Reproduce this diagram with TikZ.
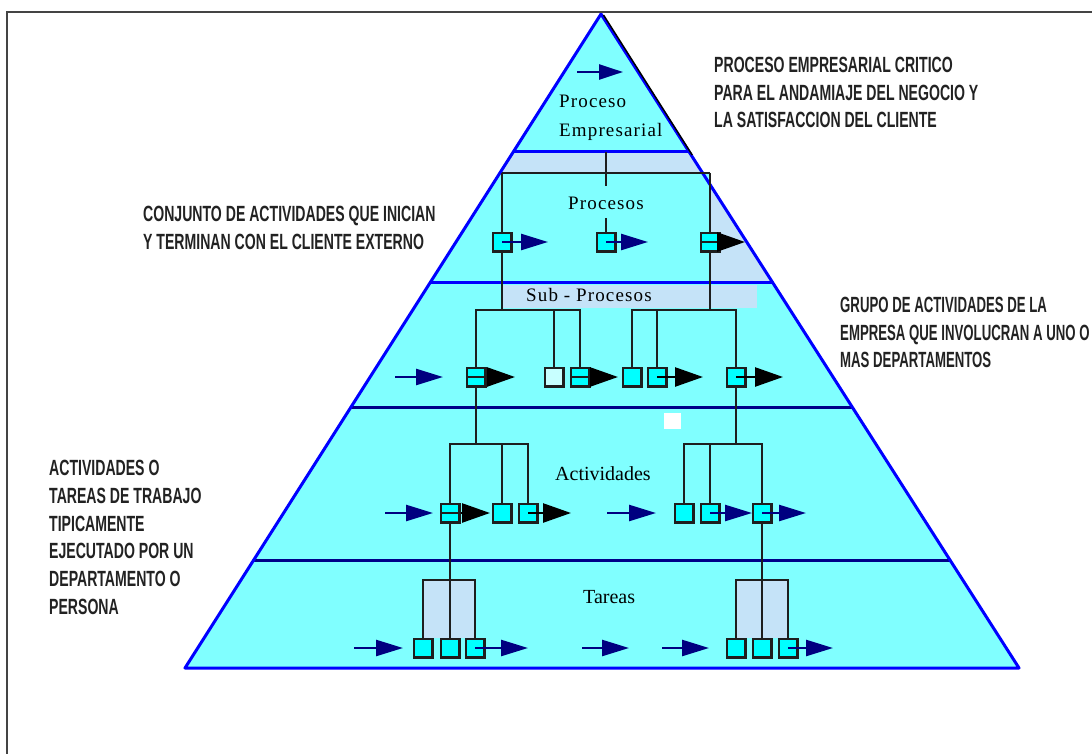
\documentclass[tikz,border=0pt]{standalone}
\usepackage{fontspec}
\usetikzlibrary{arrows.meta,calc}
\newfontfamily\capfont[FakeStretch=0.64]{Liberation Sans}
\newfontfamily\capfontnarrow[FakeStretch=0.6]{Liberation Sans}
\newfontfamily\labfont{Liberation Serif}
\newfontfamily\labfontsp[LetterSpace=6]{Liberation Serif}

\definecolor{bandcyan}{HTML}{80FFFF}
\definecolor{boxcyan}{HTML}{00FFFF}
\definecolor{palecyan}{HTML}{C8FFFF}
\definecolor{lightblue}{HTML}{C5E3F8}
\definecolor{edgeblue}{HTML}{0000FF}
\definecolor{bandnavy}{HTML}{000088}
\definecolor{arrownavy}{HTML}{000080}
\definecolor{wiregray}{HTML}{1E1E1E}
\definecolor{framegray}{HTML}{444444}
\definecolor{notegray}{HTML}{222222}

\pgfdeclarelayer{fills}
\pgfdeclarelayer{wires}
\pgfsetlayers{fills,wires,main}

\tikzset{
  box/.style={draw=wiregray, line width=2.5pt, fill=boxcyan, minimum size=18.5pt, inner sep=0pt},
  splitbox/.style={box, path picture={\draw[wiregray, line width=1.8pt]
      (path picture bounding box.west) -- (path picture bounding box.east);}},
  palebox/.style={box, fill=palecyan},
  wire/.style={draw=wiregray, line width=2.5pt},
  navyarrow/.style={draw=arrownavy, line width=2.5pt, -{Triangle[length=27pt,width=16pt]}},
  blackarrow/.style={draw=black, line width=2.5pt, -{Triangle[length=28pt,width=19pt]}},
  note/.style={font=\capfont\bfseries\fontsize{22}{27.5}\selectfont, text=notegray,
      align=left, anchor=north west, inner sep=0pt},
  lab/.style={font=\labfontsp\fontsize{19}{22}\selectfont, anchor=base west, inner sep=0pt},
  labwide/.style={font=\labfont\fontsize{20}{22}\selectfont, anchor=base west, inner sep=0pt},
  bandline/.style={line width=3pt}
}

\begin{document}
\begin{tikzpicture}[x=1pt, y=-1pt]
\useasboundingbox (0,0) rectangle (1092,754);

% pyramid corners and the points where the level lines meet its sides
\coordinate (apex) at (601,14);
\coordinate (bl) at (185,668);
\coordinate (br) at (1019,668);
\coordinate (l1) at ($(apex)!0.2110!(bl)$);
\coordinate (r1) at ($(apex)!0.2110!(br)$);
\coordinate (l1b) at ($(apex)!0.2431!(bl)$);
\coordinate (l2) at ($(apex)!0.4113!(bl)$);
\coordinate (r2) at ($(apex)!0.4113!(br)$);
\coordinate (l3) at ($(apex)!0.6024!(bl)$);
\coordinate (r3) at ($(apex)!0.6024!(br)$);
\coordinate (l4) at ($(apex)!0.8349!(bl)$);
\coordinate (r4) at ($(apex)!0.8349!(br)$);

% ---------- boxes ----------
% Procesos
\node[box]      (p1) at (502,242) {};
\node[box]      (p2) at (606,242) {};
\node[splitbox] (p3) at (710,242) {};
% Sub-Procesos
\node[splitbox] (s1) at (476,377) {};
\node[palebox]  (s2) at (554,377) {};
\node[splitbox] (s3) at (580,377) {};
\node[box]      (s4) at (632,377) {};
\node[box]      (s5) at (657,377) {};
\node[box]      (s6) at (736,377) {};
% Actividades
\node[splitbox] (a1) at (450,513) {};
\node[box]      (a2) at (502,513) {};
\node[box]      (a3) at (528,513) {};
\node[box]      (b1) at (684,513) {};
\node[box]      (b2) at (710,513) {};
\node[box]      (b3) at (762,513) {};
% Tareas
\node[box] (t1) at (423,648) {};
\node[box] (t2) at (450,648) {};
\node[box] (t3) at (475,648) {};
\node[box] (r1b) at (736,648) {};
\node[box] (r2b) at (762,648) {};
\node[box] (r3b) at (788,648) {};

% ---------- page, level fills and outline ----------
\begin{pgfonlayer}{fills}
  \fill[white] (0,0) rectangle (1092,754);
  \fill[bandcyan] (apex) -- (r1) -- (l1) -- cycle;
  \fill[lightblue] (l1) -- (r1) -- (r2) -- (l2) -- cycle;
  \fill[bandcyan] (l1b) -- (710,173) -- (710,283) -- (l2) -- cycle;
  \fill[bandcyan] (l2) -- (r2) -- (br) -- (bl) -- cycle;
  \fill[lightblue] (503,285) rectangle (757,308);
  \fill[lightblue] (423,580) rectangle (476,638);
  \fill[lightblue] (736,580) rectangle (788,638);
  \fill[white] (664,413) rectangle (681,429);
  \draw[edgeblue, bandline] (l1) -- (r1);
  \draw[edgeblue, bandline] (l2) -- (r2);
  \draw[bandnavy, bandline] (l3) -- (r3);
  \draw[bandnavy, bandline] (l4) -- (r4);
  \draw[edgeblue, bandline, line join=round] (apex) -- (br) -- (bl) -- cycle;
  \draw[black, line width=1.5pt] ($(apex)+(2.5,1)$) -- ($(r1)+(3,3)$);
  % page frame
  \draw[framegray, line width=1.5pt] (7,754) -- (7,12) -- (1092,12);
\end{pgfonlayer}

% ---------- tree lines ----------
\coordinate (ptop) at (606,152);
\coordinate (pstem) at (606,186);
\coordinate (pstub) at (606,218);
\coordinate (pl) at (502,173);
\coordinate (pr) at (710,173);
\coordinate (sl) at (502,310);
\coordinate (sr) at (710,310);
\coordinate (aY) at (0,444);
\coordinate (tY) at (0,580);
\begin{pgfonlayer}{wires}
  \draw[wire] (ptop) -- (pstem);
  \draw[wire] (pl) -- (pr);
  \draw[wire] (pstub) -- (p2);
  \draw[wire] (pl) -- (sl);
  \draw[wire] (pr) -- (sr);
  % Sub-Procesos forks
  \draw[wire] (s1.center) -- (s1.center |- sl) -- (s3.center |- sl) -- (s3.center);
  \draw[wire] (s2.center |- sl) -- (s2.center);
  \draw[wire] (s4.center) -- (s4.center |- sr) -- (s6.center |- sr) -- (s6.center);
  \draw[wire] (s5.center |- sr) -- (s5.center);
  % Actividades forks
  \draw[wire] (s1.center) -- (s1.center |- aY);
  \draw[wire] (a1.center) -- (a1.center |- aY) -- (a3.center |- aY) -- (a3.center);
  \draw[wire] (a2.center |- aY) -- (a2.center);
  \draw[wire] (s6.center) -- (s6.center |- aY);
  \draw[wire] (b1.center) -- (b1.center |- aY) -- (b3.center |- aY) -- (b3.center);
  \draw[wire] (b2.center |- aY) -- (b2.center);
  % Tareas forks
  \draw[wire] (a1.center) -- (t2.center);
  \draw[wire] (t1.center) -- (t1.center |- tY) -- (t3.center |- tY) -- (t3.center);
  \draw[wire] (b3.center) -- (r2b.center);
  \draw[wire] (r1b.center) -- (r1b.center |- tY) -- (r3b.center |- tY) -- (r3b.center);
\end{pgfonlayer}

% ---------- flow arrows ----------
\coordinate (topin) at (577,72);   \coordinate (topout) at (623,72);
\coordinate (p1tip) at (548,242);  \coordinate (p2tip) at (648,242);
\coordinate (p3tip) at (745,242);
\coordinate (sin) at (395,377);    \coordinate (sinx) at (443,377);
\coordinate (s1tip) at (515,377);  \coordinate (s3tip) at (618,377);
\coordinate (s5tip) at (703,377);  \coordinate (s6tip) at (783,377);
\coordinate (ain) at (385,513);    \coordinate (ainx) at (433,513);
\coordinate (a1tip) at (490,513);  \coordinate (a3tip) at (571,513);
\coordinate (amid) at (607,513);   \coordinate (amidx) at (656,513);
\coordinate (b2tip) at (752,513);  \coordinate (b3tip) at (806,513);
\coordinate (tin) at (354,648);    \coordinate (tinx) at (403,648);
\coordinate (t3tip) at (528,648);
\coordinate (tm1) at (582,648);    \coordinate (tm1x) at (629,648);
\coordinate (tm2) at (662,648);    \coordinate (tm2x) at (709,648);
\coordinate (r3tip) at (833,648);

\draw[arrownavy, line width=2.5pt, -{Triangle[length=24pt,width=15pt]}] (topin) -- (topout);
\draw[navyarrow] (p1.center) -- (p1tip);
\draw[navyarrow] (p2.center) -- (p2tip);
\draw[blackarrow] (p3.east) -- (p3tip);
\draw[navyarrow] (sin) -- (sinx);
\draw[blackarrow] (s1.east) -- (s1tip);
\draw[blackarrow] (s3.east) -- (s3tip);
\draw[blackarrow] (s5.center) -- (s5tip);
\draw[blackarrow] (s6.center) -- (s6tip);
\draw[navyarrow] (ain) -- (ainx);
\draw[blackarrow] (a1.east) -- (a1tip);
\draw[blackarrow] (a3.center) -- (a3tip);
\draw[navyarrow] (amid) -- (amidx);
\draw[navyarrow] (b2.center) -- (b2tip);
\draw[navyarrow] (b3.center) -- (b3tip);
\draw[navyarrow] (tin) -- (tinx);
\draw[navyarrow] (t3.center) -- (t3tip);
\draw[navyarrow] (tm1) -- (tm1x);
\draw[navyarrow] (tm2) -- (tm2x);
\draw[navyarrow] (r3b.center) -- (r3tip);

% ---------- level names ----------
\node[lab] (lproc) at (559,108) {Proceso};
\node[lab] (lemp) at (559,137) {Empresarial};
\node[lab] (lprocs) at (568,210) {Procesos};
\node[lab] (lsub) at (526,301) {Sub - Procesos};
\node[labwide] (lact) at (555,480) {Actividades};
\node[labwide] (ltar) at (583,603) {Tareas};

% ---------- descriptions ----------
\node[note] (n1) at (714,57) {PROCESO EMPRESARIAL CRITICO\\PARA EL ANDAMIAJE DEL NEGOCIO Y\\LA SATISFACCION DEL CLIENTE};
\node[note] (n2) at (143,206) {CONJUNTO DE ACTIVIDADES QUE INICIAN\\Y TERMINAN CON EL CLIENTE EXTERNO};
\node[note, font=\capfontnarrow\bfseries\fontsize{22}{27.5}\selectfont] (n3) at (840,297) {GRUPO DE ACTIVIDADES DE LA\\EMPRESA QUE INVOLUCRAN A UNO O\\MAS DEPARTAMENTOS};
\node[note, font=\capfont\bfseries\fontsize{22}{27.8}\selectfont] (n4) at (49,460) {ACTIVIDADES O\\TAREAS DE TRABAJO\\TIPICAMENTE\\EJECUTADO POR UN\\DEPARTAMENTO O\\PERSONA};
\end{tikzpicture}
\end{document}
